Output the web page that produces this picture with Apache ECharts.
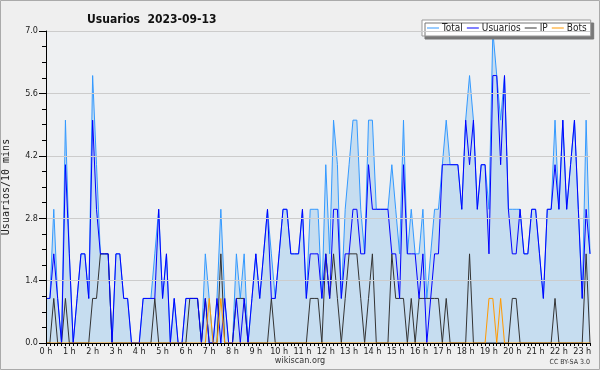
<!DOCTYPE html>
<html><head><meta charset="utf-8">
<script src="https://cdn.jsdelivr.net/npm/echarts@6/dist/echarts.min.js"></script>
<style>html,body{margin:0;padding:0;background:#efefef}#c{width:600px;height:370px}</style>
</head><body><div id="c"></div><script>
const hourLabels = ["0 h","1 h","2 h","3 h","4 h","5 h","6 h","7 h","8 h","9 h","10 h","11 h","12 h","13 h","14 h","15 h","16 h","17 h","18 h","19 h","20 h","21 h","22 h","23 h"];
const seriesNames = ["Total","Usuarios","IP","Bots"];
const totalValues = [
 1,1,3,1,0,5,2,0,1,2, 2,1,6,4,2,2,2,0,2,2, 1,1,0,0,0,1,1,1,2,3, 1,2,0,1,0,0,1,1,1,1,
 0,2,1,0,1,3,1,0,0,2, 1,2,0,1,2,1,2,3,2,1, 2,3,3,2,2,2,3,1,3,3, 3,1,4,2,5,4,1,3,4,5,
 5,3,2,5,5,3,3,3,3,4, 3,2,5,2,3,2,2,3,1,2, 3,3,4,5,4,4,4,3,5,6, 5,3,4,4,3,7,6,5,6,3,
 3,3,3,2,2,3,3,2,1,3, 3,5,3,5,3,4,5,3,1,5,2];
const usuariosValues = [
 1,1,2,1,0,4,2,0,1,2, 2,1,5,3,2,2,2,0,2,2, 1,1,0,0,0,1,1,1,1,3, 1,2,0,1,0,0,1,1,1,1,
 0,1,0,0,1,0,1,0,0,1, 0,1,0,1,2,1,2,3,1,1, 2,3,3,2,2,2,3,1,2,2, 2,1,2,1,3,3,1,2,2,3,
 3,2,2,4,3,3,3,3,3,2, 2,1,4,2,2,2,1,2,0,1, 2,2,4,4,4,4,4,3,5,4, 5,3,4,4,2,6,6,4,6,3,
 2,2,3,2,2,3,3,2,1,3, 3,4,3,5,3,4,5,3,1,3,2];
const ipValues = [
 0,0,1,0,0,1,0,0,0,0, 0,0,1,1,2,2,2,0,0,0, 0,0,0,0,0,0,0,0,1,0, 0,0,0,0,0,0,0,1,1,1,
 0,1,0,0,0,2,0,0,0,1, 1,1,0,0,0,0,0,0,1,0, 0,0,0,0,0,0,0,0,1,1, 1,0,2,1,2,1,0,1,2,2,
 2,1,0,1,2,0,0,0,0,2, 1,1,1,0,1,0,1,1,1,1, 1,1,0,1,0,0,0,0,0,2, 0,0,0,0,0,0,0,0,0,0,
 1,1,0,0,0,0,0,0,0,0, 0,1,0,0,0,0,0,0,0,2,0];
const botsValues = [
 0,0,0,0,0,0,0,0,0,0, 0,0,0,0,0,0,0,0,0,0, 0,0,0,0,0,0,0,0,0,0, 0,0,0,0,0,0,0,0,0,0,
 0,0,1,0,0,1,0,0,0,0, 0,0,0,0,0,0,0,0,0,0, 0,0,0,0,0,0,0,0,0,0, 0,0,0,0,0,0,0,0,0,0,
 0,0,0,0,0,0,0,0,0,0, 0,0,0,0,0,0,0,0,0,0, 0,0,0,0,0,0,0,0,0,0, 0,0,0,0,1,1,0,1,0,0,
 0,0,0,0,0,0,0,0,0,0, 0,0,0,0,0,0,0,0,0,0,0];
const yTicks = [0, 1.4, 2.8, 4.2, 5.6, 7.0];

const slots = [];
for (let i = 0; i < totalValues.length; i++) {
  const m = i * 10;
  slots.push(String(Math.floor(m / 60)).padStart(2, '0') + ':' + String(m % 60).padStart(2, '0'));
}

const FONT = '"DejaVu Sans Condensed", "DejaVu Sans", sans-serif';
const chart = echarts.init(document.getElementById('c'), null, {renderer: 'canvas'});
const lineSeries = (name, data, color, extra) => Object.assign({
  name, type: 'line', data, symbol: 'none', animation: false,
  lineStyle: {color, width: 1}, itemStyle: {color}
}, extra || {});

chart.setOption({
  backgroundColor: '#efefef',
  animation: false,
  title: {
    text: 'Usuarios  2023-09-13', left: 82, top: 9,
    textStyle: {fontFamily: FONT, fontSize: 12, fontWeight: 'bold', color: '#111'}
  },
  legend: {
    data: seriesNames, left: 422, top: 20, orient: 'horizontal',
    padding: [3, 4, 3, 5], itemGap: 4, itemWidth: 12, itemHeight: 1, icon: 'rect',
    backgroundColor: '#ffffff', borderColor: '#999', borderWidth: 1,
    shadowColor: '#777', shadowOffsetX: 3, shadowOffsetY: 3, shadowBlur: 0,
    textStyle: {fontFamily: FONT, fontSize: 10, color: '#222', padding: [0, 0, 0, -2]},
    selectedMode: false
  },
  grid: {left: 46, right: 10, top: 31, bottom: 27, containLabel: false, outerBoundsMode: 'none',
         show: true, backgroundColor: '#eef0f2', borderWidth: 0},
  xAxis: {
    type: 'category', data: slots, boundaryGap: false, z: 10,
    axisLine: {lineStyle: {color: '#000', width: 1}},
    axisTick: {show: true, interval: 0, length: 3, lineStyle: {color: '#000'}},
    axisLabel: {
      interval: 5, margin: 4, fontFamily: FONT, fontSize: 9, color: '#222',
      formatter: (v, i) => hourLabels[i / 6]
    },
    splitLine: {show: false}
  },
  yAxis: {
    type: 'value', min: yTicks[0], max: yTicks[yTicks.length - 1], interval: 1.4, z: 10,
    name: 'Usuarios/10 mins', nameLocation: 'middle', nameGap: 35, nameRotate: 90,
    nameTextStyle: {fontFamily: '"DejaVu Sans Mono", monospace', fontSize: 10, color: '#222'},
    axisLine: {show: true, lineStyle: {color: '#000', width: 1}},
    axisTick: {show: true, length: 7, lineStyle: {color: '#000'}},
    minorTick: {show: true, splitNumber: 4, length: 4, lineStyle: {color: '#000'}},
    axisLabel: {margin: 8, fontFamily: FONT, fontSize: 9, color: '#222', formatter: v => v.toFixed(1)},
    splitLine: {show: true, lineStyle: {color: '#cccccc', width: 1}}
  },
  series: [
    lineSeries('Total', totalValues, '#3399ff', {areaStyle: {color: '#c6ddf0', opacity: 1}, z: 1}),
    lineSeries('Usuarios', usuariosValues, '#0000ff', {z: 3}),
    lineSeries('IP', ipValues, '#333333', {z: 2}),
    lineSeries('Bots', botsValues, '#ff9900', {z: 4})
  ],
  graphic: [
    {type: 'rect', shape: {x: 0.5, y: 0.5, width: 599, height: 369}, style: {fill: null, stroke: '#aaaaaa', lineWidth: 1}, silent: true, z: 100},
    {type: 'text', left: 'center', top: 356, style: {text: 'wikiscan.org', font: '9px ' + FONT, fill: '#333'}},
    {type: 'text', right: 10, top: 359, style: {text: 'CC BY-SA 3.0', font: '7px ' + FONT, fill: '#333'}}
  ]
});
</script></body></html>
